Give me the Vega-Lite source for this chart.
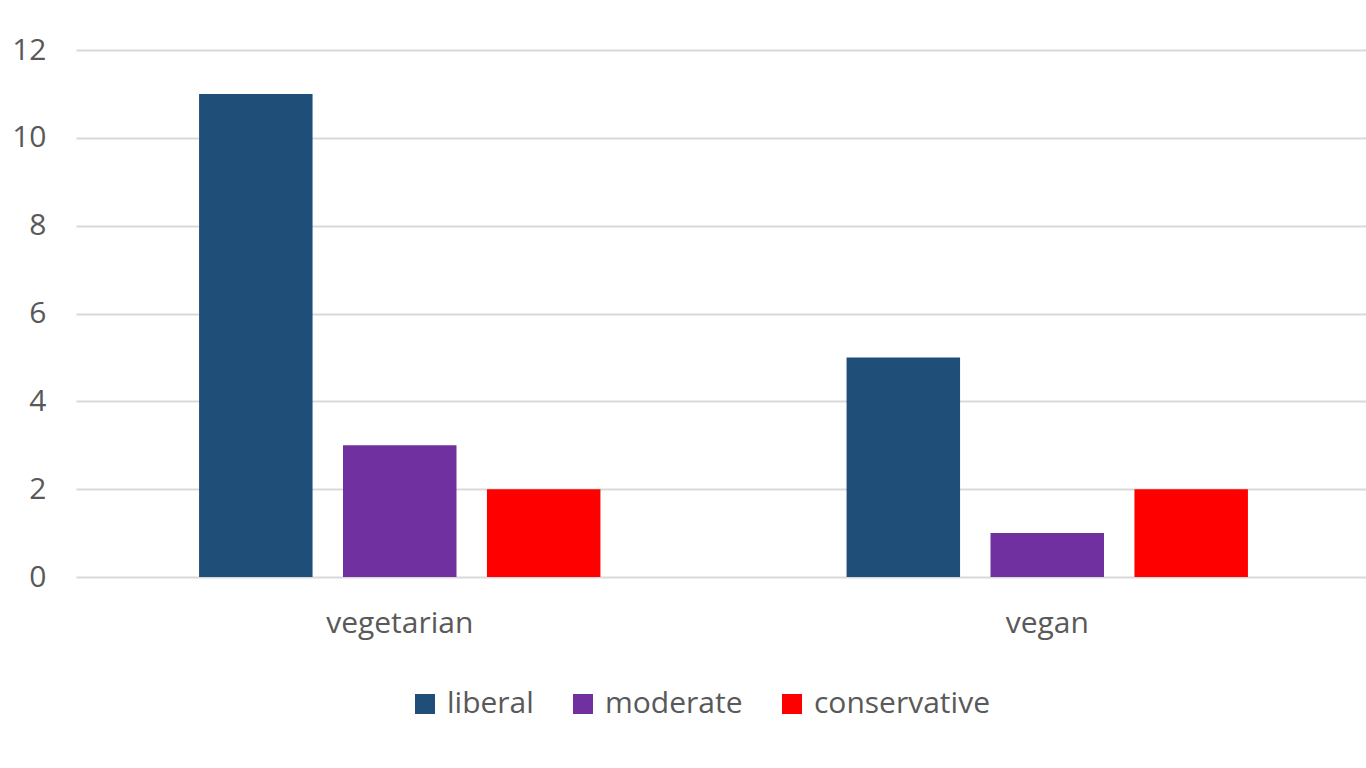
{
  "$schema": "https://vega.github.io/schema/vega-lite/v6.json",
  "autosize": {"type": "none"},
  "width": 1295,
  "height": 527,
  "padding": {"left": 76, "top": 50, "right": 0, "bottom": 191},
  "background": "white",
  "config": {"view": {"stroke": null}, "font": "Open Sans"},
  "data": {"values": [
    {"diet": "vegetarian", "group": "liberal", "count": 11},
    {"diet": "vegetarian", "group": "moderate", "count": 3},
    {"diet": "vegetarian", "group": "conservative", "count": 2},
    {"diet": "vegan", "group": "liberal", "count": 5},
    {"diet": "vegan", "group": "moderate", "count": 1},
    {"diet": "vegan", "group": "conservative", "count": 2}
  ]},
  "mark": {"type": "bar"},
  "encoding": {
    "x": {"field": "diet", "type": "nominal", "sort": ["vegetarian", "vegan"],
      "scale": {"paddingInner": 0, "paddingOuter": 0},
      "axis": {"title": null, "labelAngle": 0, "labelFontSize": 30, "labelColor": "#595959", "labelFont": "Open Sans", "tickSize": 0, "domain": false, "labelPadding": 31}},
    "xOffset": {"field": "group", "sort": ["liberal", "moderate", "conservative"],
      "scale": {"paddingInner": 0.2115, "paddingOuter": 0.855}},
    "y": {"field": "count", "type": "quantitative",
      "scale": {"domain": [0, 12]},
      "axis": {"title": null, "values": [0, 2, 4, 6, 8, 10, 12], "labelFontSize": 30, "labelColor": "#595959", "labelFont": "Open Sans", "tickSize": 0, "domain": false, "labelPadding": 30, "gridColor": "#d9d9d9", "gridWidth": 2}},
    "color": {"field": "group", "type": "nominal", "sort": ["liberal", "moderate", "conservative"],
      "scale": {"domain": ["liberal", "moderate", "conservative"], "range": ["#1F4E79", "#7030A0", "#FF0000"]},
      "legend": {"title": null, "orient": "none", "direction": "horizontal", "legendX": 334, "legendY": 639,
        "symbolType": "square", "symbolSize": 400, "symbolStrokeWidth": 0, "labelFontSize": 30, "labelColor": "#595959", "labelFont": "Open Sans", "labelOffset": 7, "columnPadding": 34, "labelLimit": 400}}
  }
}
